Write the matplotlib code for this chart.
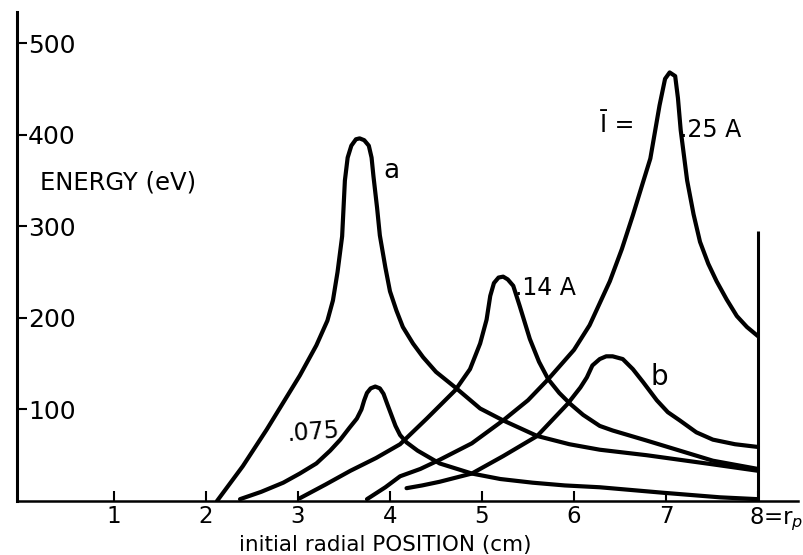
import matplotlib
matplotlib.use("Agg")
import matplotlib.pyplot as plt
from matplotlib.transforms import ScaledTranslation

# energy vs initial radial position
a_x = [2.12, 2.40, 2.66, 3.02, 3.20, 3.32, 3.38, 3.43, 3.48, 3.51, 3.54, 3.58, 3.63, 3.67,
       3.72, 3.77, 3.80, 3.82, 3.86, 3.89, 3.95, 4.00, 4.07, 4.14, 4.25, 4.36, 4.50, 4.71,
       4.98, 5.23, 5.60, 5.95, 6.28, 6.79, 7.15, 7.51, 8.00]
a_y = [0, 38, 78, 137, 170, 197, 219, 250, 289, 350, 375, 388, 395, 396,
       394, 388, 375, 355, 320, 290, 255, 229, 208, 190, 172, 157, 141, 124,
       101, 88, 71, 62, 56, 50, 45, 40, 33]

e075_x = [2.37, 2.60, 2.84, 3.02, 3.20, 3.35, 3.46, 3.56, 3.64, 3.69, 3.72, 3.75, 3.79, 3.84,
          3.89, 3.93, 3.97, 4.00, 4.06, 4.11, 4.18, 4.30, 4.54, 4.89, 5.20, 5.55, 5.90, 6.28,
          6.97, 7.59, 8.00]
e075_y = [2, 10, 20, 30, 41, 55, 67, 80, 90, 100, 110, 118, 123, 125,
          123, 117, 106, 98, 82, 72, 64, 55, 41, 30, 24, 20, 17, 15,
          9, 4, 2]

i14_x = [3.02, 3.30, 3.57, 3.85, 4.11, 4.40, 4.71, 4.87, 4.98, 5.05, 5.09, 5.13, 5.18, 5.23,
         5.28, 5.34, 5.41, 5.52, 5.62, 5.72, 5.84, 5.96, 6.10, 6.28, 6.42, 6.79, 7.15, 7.51, 8.00]
i14_y = [3, 18, 33, 47, 62, 90, 121, 144, 172, 198, 224, 238, 244, 245,
         242, 235, 213, 177, 152, 133, 118, 106, 94, 82, 77, 66, 55, 44, 35]

i25_x = [3.75, 3.95, 4.11, 4.33, 4.54, 4.89, 5.23, 5.50, 5.72, 6.00, 6.17, 6.39, 6.52, 6.64,
         6.75, 6.83, 6.93, 6.99, 7.04, 7.10, 7.13, 7.16, 7.23, 7.30, 7.37, 7.46, 7.55, 7.66,
         7.77, 7.88, 8.00]
i25_y = [2, 15, 27, 35, 45, 63, 88, 110, 133, 165, 192, 240, 275, 312,
         348, 374, 432, 461, 468, 464, 440, 405, 350, 313, 283, 259, 240, 220,
         202, 190, 180]

b_x = [4.18, 4.35, 4.54, 4.89, 5.23, 5.60, 5.93, 6.07, 6.14, 6.20, 6.28, 6.35, 6.42, 6.53,
       6.64, 6.75, 6.90, 7.02, 7.15, 7.33, 7.51, 7.75, 8.00]
b_y = [14, 17, 21, 30, 49, 71, 106, 124, 135, 148, 155, 158, 158, 155,
       144, 130, 110, 97, 88, 75, 67, 62, 59]

rp = 8.0
wall_top = 295

xticks = [1, 2, 3, 4, 5, 6, 7, 8]
xtick_labels = ["1", "2", "3", "4", "5", "6", "7", "8=r$_p$"]
yticks = [100, 200, 300, 400, 500]
ytick_labels = ["100", "200", "300", "400", "500"]

plt.rcParams['font.family'] = ['DejaVu Sans']
plt.rcParams['mathtext.fontset'] = 'dejavusans'

fig = plt.figure(figsize=(8.04, 5.55), dpi=100)
ax = fig.add_axes([17 / 804, 54 / 555, 781 / 804, 489 / 555])

lw = 3.0
for xs, ys in [(a_x, a_y), (e075_x, e075_y), (i14_x, i14_y), (i25_x, i25_y), (b_x, b_y)]:
    ax.plot(xs, ys, color='black', lw=lw, solid_capstyle='round', solid_joinstyle='round')

ax.vlines(rp, 0, wall_top, color='black', lw=2.2)

ax.set_xlim(-0.054, 8.435)
ax.set_ylim(0, 534)

for s in ['top', 'right']:
    ax.spines[s].set_visible(False)
ax.spines['left'].set_linewidth(2.2)
ax.spines['bottom'].set_linewidth(1.8)

ax.set_xticks(xticks)
ax.set_xticklabels(xtick_labels, fontsize=16.5)
ax.set_yticks(yticks)
ax.set_yticklabels(ytick_labels, fontsize=18)
ax.tick_params(axis='x', direction='in', length=7, width=1.5, pad=3)
ax.tick_params(axis='y', direction='in', length=7, width=1.5, pad=-8)
for lab in ax.get_yticklabels():
    lab.set_horizontalalignment('left')

last = ax.xaxis.get_major_ticks()[-1].label1
last.set_horizontalalignment('left')
last.set_transform(last.get_transform() + ScaledTranslation(-9 / 100, 0, fig.dpi_scale_trans))

ax.set_xlabel("initial radial POSITION (cm)", fontsize=15.5)
ax.xaxis.set_label_coords(0.471, -0.089)
ax.xaxis.label.set_verticalalignment('center')

ax.text(0.2, 348, "ENERGY (eV)", fontsize=17.5, ha='left', va='center')
ax.text(4.02, 360, "a", fontsize=19, ha='center', va='center')
ax.text(3.17, 75, ".075", fontsize=17, ha='center', va='center', rotation=4)
ax.text(5.36, 233, ".14 A", fontsize=17, ha='left', va='center')
ax.text(6.93, 135, "b", fontsize=20, ha='center', va='center')
ax.text(6.28, 411, "Ī =", fontsize=17, ha='left', va='center')
ax.text(7.15, 405, ".25 A", fontsize=17, ha='left', va='center')

fig.savefig("out.png", dpi=100)
